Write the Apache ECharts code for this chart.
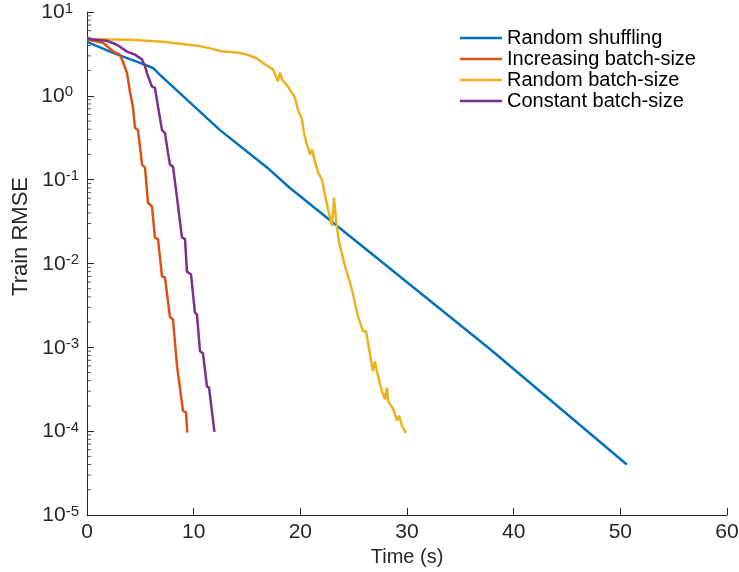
<!DOCTYPE html>
<html>
<head>
<meta charset="utf-8">
<script src="https://cdn.jsdelivr.net/npm/echarts@6/dist/echarts.min.js"></script>
<style>html,body{margin:0;padding:0;background:#fff}#c{width:739px;height:572px}</style>
</head>
<body>
<div id="c"></div>
<script>
const seriesNames = ['Random shuffling', 'Increasing batch-size', 'Random batch-size', 'Constant batch-size'];
const xTicks = [0, 10, 20, 30, 40, 50, 60];
const yTicks = [1e-5, 1e-4, 1e-3, 1e-2, 1e-1, 1, 10];

const randomShuffling = [
  [0, 4.4], [2.44, 3.25], [4.97, 2.47], [6.19, 2.15], [6.84, 1.78], [12.47, 0.39], [16.9, 0.139],
  [19.0, 0.080], [25.0, 0.0195], [37.8, 0.00095], [50.6, 4.0e-5]
];
const increasingBatch = [
  [0, 4.7], [1.5, 4.3], [2.44, 3.4], [3.09, 3.1], [3.37, 2.55], [3.75, 1.88], [4.03, 1.11],
  [4.31, 0.74], [4.5, 0.415], [4.78, 0.39], [4.97, 0.248], [5.16, 0.151], [5.44, 0.139],
  [5.72, 0.053], [6.09, 0.048], [6.37, 0.0204], [6.66, 0.0194], [7.03, 0.007], [7.31, 0.0068],
  [7.78, 0.0023], [8.06, 0.00215], [8.44, 0.0006], [8.62, 0.00059], [9.0, 0.000175],
  [9.28, 0.000168], [9.4, 0.000096]
];
const randomBatch = [
  [0, 4.75], [4.0, 4.67], [7.1, 4.42], [8.7, 4.19], [10.3, 3.97], [11.25, 3.76], [12.75, 3.37],
  [14.06, 3.28], [15.0, 3.11], [15.94, 2.79], [16.69, 2.37], [17.44, 2.07], [17.9, 1.49],
  [18.1, 1.9], [18.28, 1.57], [18.84, 1.29], [19.5, 0.95], [19.78, 0.69], [20.16, 0.52],
  [20.34, 0.36], [20.62, 0.262], [20.91, 0.2], [21.1, 0.228], [21.37, 0.164], [21.66, 0.122],
  [22.03, 0.1], [22.31, 0.066], [22.6, 0.044], [22.97, 0.028], [23.16, 0.061], [23.34, 0.0335],
  [23.63, 0.018], [24.19, 0.0093], [24.66, 0.0059], [24.94, 0.0043], [25.4, 0.00235],
  [25.87, 0.00156], [26.16, 0.00156], [26.53, 0.00082], [26.81, 0.00052], [27.0, 0.00068],
  [27.19, 0.00051], [27.66, 0.000295], [27.94, 0.00024], [28.12, 0.00033], [28.22, 0.00023],
  [28.69, 0.000185], [29.06, 0.000134], [29.25, 0.000153], [29.53, 0.000116], [29.9, 0.000095]
];
const constantBatch = [
  [0, 4.75], [1.87, 4.54], [2.81, 4.07], [3.75, 3.37], [4.5, 3.1], [5.16, 2.71], [5.44, 2.24],
  [5.72, 1.71], [6.09, 1.29], [6.37, 1.25], [6.66, 0.74], [7.03, 0.39], [7.31, 0.36],
  [7.59, 0.21], [7.78, 0.151], [8.06, 0.143], [8.44, 0.061], [8.53, 0.058], [8.9, 0.0205],
  [9.19, 0.0195], [9.37, 0.008], [9.75, 0.0074], [10.12, 0.0026], [10.31, 0.00247],
  [10.59, 0.0009], [10.87, 0.00085], [11.25, 0.00034], [11.44, 0.00033], [11.95, 0.000098]
];
const minorTickValues = [];
[1e-5, 1e-4, 1e-3, 1e-2, 1e-1, 1].forEach(function (d) {
  [2, 3, 4, 5, 6, 7, 8, 9].forEach(function (m) { minorTickValues.push(d * m); });
});

const colors = ['#0072BD', '#D95319', '#EDB120', '#7E2F8E'];
const FONT = 'Liberation Sans, Arial, Helvetica, sans-serif';
const AX = '#262626';

const chart = echarts.init(document.getElementById('c'));
const dataSets = [randomShuffling, increasingBatch, randomBatch, constantBatch];

const lineSeries = dataSets.map(function (d, i) {
  return {
    name: seriesNames[i], type: 'line', data: d, showSymbol: false, symbol: 'none',
    lineStyle: { width: 2.5, color: colors[i] }, itemStyle: { color: colors[i] },
    animation: false, z: 3
  };
});

lineSeries.push({
  type: 'custom', silent: true, animation: false, z: 2,
  data: minorTickValues.map(function (v) { return [0, v]; }),
  renderItem: function (params, api) {
    const p = api.coord([0, api.value(1)]);
    return { type: 'line', shape: { x1: p[0], y1: p[1], x2: p[0] + 4, y2: p[1] },
      style: { stroke: '#555', lineWidth: 1 } };
  }
});

chart.setOption({
  backgroundColor: '#fff',
  animation: false,
  grid: { left: 87, right: 12, top: 12, bottom: 57, containLabel: false, outerBoundsMode: 'none' },
  legend: {
    data: seriesNames, orient: 'vertical', left: 455, top: 23,
    icon: 'rect', itemWidth: 42, itemHeight: 2.5, itemGap: 1,
    textStyle: { fontFamily: FONT, fontSize: 20, color: '#000' }
  },
  xAxis: {
    type: 'value', min: 0, max: 60, interval: 10,
    name: 'Time (s)', nameLocation: 'middle', nameGap: 31,
    nameTextStyle: { fontFamily: FONT, fontSize: 20, color: AX },
    axisLine: { lineStyle: { color: AX, width: 1 } },
    axisTick: { inside: true, length: 7, lineStyle: { color: AX } },
    axisLabel: { fontFamily: FONT, fontSize: 21, color: AX, margin: 7 },
    splitLine: { show: false }
  },
  yAxis: {
    type: 'log', logBase: 10, min: 1e-5, max: 10,
    axisLine: { show: true, lineStyle: { color: AX, width: 1 } },
    axisTick: { show: true, inside: true, length: 7, lineStyle: { color: AX } },
    axisLabel: {
      margin: 8, color: AX,
      formatter: function (v) {
        const e = Math.round(Math.log10(v));
        return '{b|10}{' + (e < 0 ? 's' : 'p') + '|' + e + '}';
      },
      rich: {
        b: { fontFamily: FONT, fontSize: 21, color: AX, lineHeight: 21, verticalAlign: 'bottom', padding: [8, 0, 0, 0] },
        s: { fontFamily: FONT, fontSize: 15, color: AX, lineHeight: 22, verticalAlign: 'top' },
        p: { fontFamily: FONT, fontSize: 15, color: AX, lineHeight: 22, verticalAlign: 'top', padding: [0, 6, 0, 0] }
      }
    },
    splitLine: { show: false }
  },
  graphic: [{
    type: 'text', left: 10, top: 177, rotation: Math.PI / 2,
    style: { text: 'Train RMSE', fontFamily: FONT, fontSize: 22, fill: AX }
  }],
  series: lineSeries
});
</script>
</body>
</html>
